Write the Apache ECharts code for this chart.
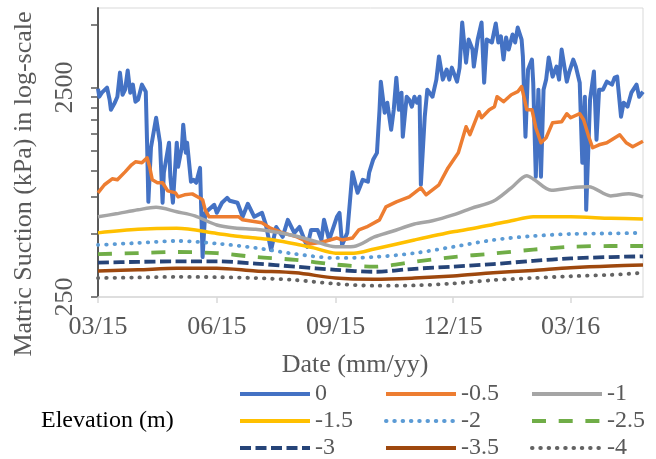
<!DOCTYPE html>
<html>
<head>
<meta charset="utf-8">
<script src="https://cdn.jsdelivr.net/npm/echarts@6/dist/echarts.min.js"></script>
<style>html,body{margin:0;padding:0;background:#fff}#c{width:656px;height:459px}</style>
</head>
<body>
<div id="c"></div>
<script>
// ---------- DATA ----------
const seriesNames = ['0','-0.5','-1','-1.5','-2','-2.5','-3','-3.5','-4'];
const xTickDates = ['2015-03-01','2015-06-01','2015-09-01','2015-12-01','2016-03-01'];
const xMin = '2015-03-01';
const xMax = '2016-04-26';
const yLabelValues = [250, 2500];
const yTickValues = [250,500,750,1000,1250,1500,1750,2000,2250,2500,5000];
const yMin = 250, yMax = 6000;

const datesE0 = ['2015-03-01','2015-03-02','2015-03-04','2015-03-08','2015-03-10','2015-03-11','2015-03-14','2015-03-16','2015-03-18','2015-03-20',
'2015-03-22','2015-03-24','2015-03-26','2015-03-28','2015-03-30','2015-04-01','2015-04-04','2015-04-05','2015-04-07','2015-04-08',
'2015-04-09','2015-04-11','2015-04-15','2015-04-18','2015-04-20','2015-04-21','2015-04-25','2015-04-26','2015-04-28','2015-05-01',
'2015-05-02','2015-05-05','2015-05-06','2015-05-08','2015-05-09','2015-05-12','2015-05-14','2015-05-16','2015-05-19','2015-05-21',
'2015-05-23','2015-05-30','2015-06-01','2015-06-05','2015-06-09','2015-06-11','2015-06-17','2015-06-21','2015-06-25','2015-06-30',
'2015-07-06','2015-07-09','2015-07-13','2015-07-17','2015-07-22','2015-07-26','2015-07-31','2015-08-04','2015-08-10','2015-08-13',
'2015-08-18','2015-08-21','2015-08-23','2015-08-27','2015-09-02','2015-09-04','2015-09-06','2015-09-10','2015-09-14','2015-09-18',
'2015-09-22','2015-09-26','2015-09-27','2015-09-30','2015-10-03','2015-10-05','2015-10-06','2015-10-09','2015-10-11','2015-10-14',
'2015-10-16','2015-10-18','2015-10-20','2015-10-22','2015-10-23','2015-10-26','2015-10-28','2015-10-30','2015-11-01','2015-11-03',
'2015-11-05','2015-11-06','2015-11-09','2015-11-11','2015-11-15','2015-11-18','2015-11-20','2015-11-23','2015-11-26','2015-11-28',
'2015-11-30','2015-12-04','2015-12-06','2015-12-08','2015-12-11','2015-12-13','2015-12-16','2015-12-17','2015-12-20','2015-12-23',
'2015-12-25','2015-12-27','2015-12-31','2016-01-03','2016-01-05','2016-01-07','2016-01-09','2016-01-11','2016-01-13','2016-01-16',
'2016-01-18','2016-01-20','2016-01-23','2016-01-24','2016-01-26','2016-01-28','2016-01-31','2016-02-01','2016-02-03','2016-02-05',
'2016-02-07','2016-02-09','2016-02-11','2016-02-13','2016-02-16','2016-02-19','2016-02-21','2016-02-23','2016-02-27','2016-02-29',
'2016-03-03','2016-03-05','2016-03-08','2016-03-10','2016-03-12','2016-03-13','2016-03-16','2016-03-19','2016-03-21','2016-03-23',
'2016-03-26','2016-03-29','2016-04-02','2016-04-04','2016-04-06','2016-04-09','2016-04-11','2016-04-14','2016-04-17','2016-04-21',
'2016-04-23','2016-04-26'];
const valuesE0 = [2470,2262,2365,2500,2188,1960,2118,2262,2948,2312,
2445,3015,2365,2583,2141,2188,2583,2640,2390,1364,
712,1290,1795,1364,705,980,1364,938,705,1364,
1047,1305,1662,1220,1364,888,907,878,1034,388,
631,689,631,705,744,720,705,604,697,604,
631,552,419,540,484,584,506,540,434,523,
523,468,584,468,604,631,443,506,985,786,
907,888,985,1130,1220,1960,2670,1895,2118,1573,
1960,2790,1960,2365,1457,2262,2188,2027,2262,2118,
2262,859,1815,2445,2262,2730,3519,2730,3048,2730,
3116,2670,3116,5113,3290,4241,3799,3150,4241,5113,
2640,4241,4106,5060,4106,4390,3402,4340,3799,4482,
4106,4840,4241,3519,1457,3048,3402,2640,938,2445,
938,2445,2730,3480,2820,3150,2730,3799,2670,2982,
3402,3150,2640,1094,2262,652,2188,2982,1409,2445,
2445,2670,2583,2790,2820,1815,2118,2027,2365,2583,
2262,2390];

const datesE05 = ['2015-03-01','2015-03-06','2015-03-12','2015-03-16','2015-03-22','2015-03-27','2015-03-30','2015-04-04','2015-04-08','2015-04-10',
'2015-04-12','2015-04-16','2015-04-20','2015-04-24','2015-04-30','2015-05-02','2015-05-07','2015-05-13','2015-05-17','2015-05-21',
'2015-05-23','2015-05-26','2015-06-09','2015-06-18','2015-06-21','2015-07-06','2015-07-12','2015-07-22','2015-08-02','2015-08-07',
'2015-08-12','2015-08-22','2015-09-02','2015-09-06','2015-09-14','2015-09-19','2015-09-25','2015-10-05','2015-10-10','2015-10-18',
'2015-10-28','2015-11-06','2015-11-10','2015-11-20','2015-11-27','2015-12-05','2015-12-11','2015-12-14','2015-12-21','2015-12-23',
'2015-12-29','2016-01-02','2016-01-04','2016-01-09','2016-01-15','2016-01-20','2016-01-23','2016-01-27','2016-01-31','2016-02-03',
'2016-02-07','2016-02-11','2016-02-16','2016-02-23','2016-02-27','2016-03-01','2016-03-08','2016-03-11','2016-03-15','2016-03-18',
'2016-03-23','2016-03-29','2016-04-08','2016-04-13','2016-04-18','2016-04-26'];
const valuesE05 = [786,859,917,907,990,1070,1106,1094,1155,1047,
907,878,878,803,786,752,769,777,752,728,
652,604,604,604,584,565,535,506,484,468,
448,458,478,468,478,523,540,584,674,712,
752,830,769,859,1034,1220,1626,1489,1918,1795,
1960,2027,2262,2141,2312,2390,2528,1960,1960,1608,
1363,1440,1700,1718,1876,1795,1876,1756,1457,1290,
1333,1363,1489,1363,1305,1385];

const datesE1 = ['2015-03-01','2015-03-15','2015-04-01','2015-04-15','2015-05-01','2015-05-15','2015-06-01','2015-06-15','2015-07-01','2015-07-15',
'2015-08-01','2015-08-15','2015-09-01','2015-09-15','2015-10-01','2015-10-15','2015-11-01','2015-11-15','2015-12-01','2015-12-15',
'2016-01-01','2016-01-15','2016-01-27','2016-02-01','2016-02-15','2016-03-01','2016-03-15','2016-04-01','2016-04-15','2016-04-26'];
const valuesE1 = [604,624,652,670,638,610,552,534,526,512,
489,463,434,436,484,515,558,578,617,663,
716,830,949,916,808,830,840,760,778,752];

const datesE15 = ['2015-03-01','2015-04-01','2015-05-01','2015-06-01','2015-06-15','2015-07-01','2015-07-15','2015-08-01','2015-08-15','2015-09-01',
'2015-09-15','2015-10-01','2015-10-15','2015-11-01','2015-12-01','2015-12-15','2016-01-01','2016-01-15','2016-02-01','2016-03-01',
'2016-04-01','2016-04-26'];
const valuesE15 = [506,526,532,503,489,478,468,448,429,405,
405,424,443,468,512,529,555,578,604,604,
594,590];

const datesMonthly = ['2015-03-01','2015-04-01','2015-05-01','2015-06-01','2015-07-01','2015-08-01','2015-09-01','2015-10-01','2015-11-01','2015-12-01',
'2016-01-01','2016-02-01','2016-03-01','2016-04-01','2016-04-26'];
const valuesE2  = [443,453,463,450,429,401,384,388,405,434,468,489,500,503,506];
const valuesE25 = [401,405,410,405,388,376,357,349,368,388,403,421,434,438,438];
const valuesE3  = [365,368,370,370,361,349,337,330,341,349,359,372,382,388,391];
const valuesE35 = [333,337,343,343,333,326,308,304,308,315,326,335,345,352,355];
const valuesE4  = [308,310,312,311,308,301,289,283,284,290,301,308,314,319,326];

// ---------- CHART ----------
const FONT = "'Liberation Serif','Times New Roman',serif";
const GRAY = '#595959';
function ts(s){ const p = s.split('-').map(Number); return new Date(p[0], p[1]-1, p[2]).getTime(); }
function zip(d, v){ return d.map((x, i) => [ts(x), v[i]]); }

const styles = [
  {color:'#4472C4', width:4, type:'solid'},
  {color:'#ED7D31', width:3.5, type:'solid'},
  {color:'#A5A5A5', width:3.5, type:'solid'},
  {color:'#FFC000', width:3.5, type:'solid'},
  {color:'#5B9BD5', width:3.8, type:[0.5,7.8], cap:'round'},
  {color:'#70AD47', width:3.8, type:[14,12.7]},
  {color:'#264478', width:3.8, type:[11,4.5]},
  {color:'#9E480E', width:3.5, type:'solid'},
  {color:'#636363', width:3.8, type:[0.5,7.8], cap:'round'}
];
const seriesData = [
  zip(datesE0, valuesE0), zip(datesE05, valuesE05), zip(datesE1, valuesE1), zip(datesE15, valuesE15),
  zip(datesMonthly, valuesE2), zip(datesMonthly, valuesE25), zip(datesMonthly, valuesE3),
  zip(datesMonthly, valuesE35), zip(datesMonthly, valuesE4)
];
const smoothFlags = [false,false,0.3,0.3,0.3,0.3,0.3,0.3,0.3];

const series = seriesNames.map((n, i) => ({
  name: n, type: 'line', data: seriesData[i], symbol: 'none', showSymbol: false,
  smooth: smoothFlags[i],
  lineStyle: {color: styles[i].color, width: styles[i].width, type: styles[i].type, cap: styles[i].cap || 'butt', join: 'round'},
  itemStyle: {color: styles[i].color},
  emphasis: {disabled: true}
}));

// legend grid: 3 columns x 3 rows, one legend per entry
const legendLefts = [238, 384, 530];
const legendTops = [382, 409, 436];
const legends = seriesNames.map((n, i) => ({
  orient: 'horizontal', left: legendLefts[i % 3], top: legendTops[Math.floor(i / 3)], padding: 0,
  itemWidth: 70, itemHeight: 14, data: [n], selectedMode: false,
  itemStyle: {opacity: 0, borderWidth: 0},
  lineStyle: {width: 4, color: styles[i].color, type: styles[i].type, cap: styles[i].cap || 'butt'},
  textStyle: {fontFamily: FONT, fontSize: 24, color: GRAY}
}));

const chart = echarts.init(document.getElementById('c'), null, {renderer: 'canvas'});
chart.setOption({
  animation: false,
  backgroundColor: '#fff',
  grid: {left: 98, right: 13, top: 8, bottom: 162, show: true, borderColor: '#D9D9D9', borderWidth: 1, containLabel: false},
  xAxis: {
    type: 'value', min: ts(xMin), max: ts(xMax),
    axisLine: {show: true, lineStyle: {color: '#D9D9D9', width: 1.5}},
    axisTick: {show: true, length: 6, customValues: xTickDates.map(ts), lineStyle: {color: '#D9D9D9', width: 1.5}},
    axisLabel: {customValues: xTickDates.map(ts), margin: 17, fontFamily: FONT, fontSize: 26, color: GRAY,
      formatter: v => { const d = new Date(v); const m = d.getMonth()+1; return (m<10?'0':'')+m+'/'+String(d.getFullYear()).slice(2); }},
    splitLine: {show: false}
  },
  yAxis: {
    type: 'log', logBase: 10, min: yMin, max: yMax,
    axisLine: {show: true, lineStyle: {color: GRAY, width: 2}},
    axisTick: {show: true, length: 7, customValues: yTickValues, lineStyle: {color: GRAY, width: 1.5}},
    axisLabel: {customValues: yLabelValues, rotate: 90, margin: 20, fontFamily: FONT, fontSize: 26, color: GRAY,
      formatter: v => String(Math.round(v))},
    splitLine: {show: false}, minorTick: {show: false}
  },
  legend: legends,
  graphic: [
    {type: 'text', x: 24, y: 184, rotation: Math.PI/2,
      style: {text: 'Matric Suction (kPa) in log-scale', font: "26px 'Liberation Serif'", fill: GRAY, align: 'center', verticalAlign: 'middle'}},
    {type: 'text', x: 355, y: 365,
      style: {text: 'Date (mm/yy)', font: "26px 'Liberation Serif'", fill: GRAY, align: 'center', verticalAlign: 'middle'}},
    {type: 'text', x: 41, y: 421,
      style: {text: 'Elevation (m)', font: "24px 'Liberation Serif'", fill: '#000', align: 'left', verticalAlign: 'middle'}}
  ],
  series: series
});
</script>
</body>
</html>
